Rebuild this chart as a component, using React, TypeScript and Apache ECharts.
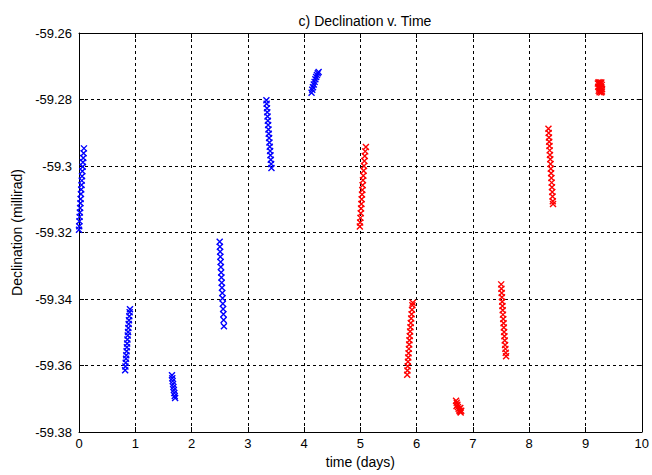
import React, { useEffect, useRef } from "react";
import * as echarts from "echarts";

const xTicks = [0, 1, 2, 3, 4, 5, 6, 7, 8, 9, 10];
const yTickLabels = ["-59.38", "-59.36", "-59.34", "-59.32", "-59.3", "-59.28", "-59.26"];

// Blue passes (time in days, declination in millirad)
const blue1: [number, number][] = [
  [0.0, -59.3192], [0.004, -59.3181], [0.008, -59.3166], [0.011, -59.3153], [0.016, -59.314],
  [0.02, -59.3126], [0.026, -59.3112], [0.029, -59.3099], [0.035, -59.3084], [0.039, -59.3071],
  [0.045, -59.3057], [0.049, -59.3044], [0.054, -59.3031], [0.06, -59.3016], [0.065, -59.3002],
  [0.07, -59.2989], [0.076, -59.2976], [0.082, -59.2962], [0.088, -59.2947],
];
const blue2: [number, number][] = [
  [0.82, -59.3614], [0.825, -59.3603], [0.83, -59.3592], [0.836, -59.358], [0.84, -59.3569],
  [0.846, -59.3557], [0.851, -59.3545], [0.856, -59.3534], [0.861, -59.3522], [0.866, -59.351],
  [0.872, -59.3499], [0.877, -59.3487], [0.883, -59.3475], [0.888, -59.3464], [0.894, -59.3452],
  [0.9, -59.344], [0.906, -59.3431],
];
const blue3: [number, number][] = [
  [1.652, -59.3629], [1.658, -59.3638], [1.664, -59.3647], [1.671, -59.3656], [1.678, -59.3665],
  [1.686, -59.3674], [1.694, -59.3683], [1.701, -59.3692], [1.708, -59.3698],
];
const blue4: [number, number][] = [
  [2.5, -59.3228], [2.504, -59.3243], [2.508, -59.3258], [2.512, -59.3273], [2.517, -59.3289],
  [2.521, -59.3304], [2.526, -59.332], [2.531, -59.3335], [2.536, -59.3351], [2.54, -59.3366],
  [2.546, -59.3382], [2.551, -59.3398], [2.556, -59.3414], [2.561, -59.343], [2.566, -59.3446],
  [2.57, -59.3463], [2.575, -59.3482],
];
const blue5: [number, number][] = [
  [3.33, -59.2802], [3.334, -59.2813], [3.34, -59.2826], [3.345, -59.2838], [3.35, -59.2851],
  [3.356, -59.2864], [3.361, -59.2877], [3.367, -59.289], [3.372, -59.2903], [3.378, -59.2916],
  [3.384, -59.2929], [3.39, -59.2942], [3.396, -59.2955], [3.402, -59.2968], [3.408, -59.2981],
  [3.414, -59.2994], [3.42, -59.3006],
];
const blue6: [number, number][] = [
  [4.132, -59.278], [4.145, -59.2771], [4.158, -59.2763], [4.172, -59.2755], [4.186, -59.2747],
  [4.2, -59.2739], [4.214, -59.2732], [4.228, -59.2726], [4.243, -59.2721], [4.258, -59.2717],
];

// Red passes
const red1: [number, number][] = [
  [4.99, -59.3182], [4.996, -59.317], [5.001, -59.3156], [5.007, -59.3142], [5.012, -59.3128],
  [5.018, -59.3114], [5.023, -59.31], [5.029, -59.3086], [5.034, -59.3072], [5.04, -59.3058],
  [5.046, -59.3043], [5.052, -59.3029], [5.058, -59.3014], [5.064, -59.3], [5.071, -59.2985],
  [5.078, -59.297], [5.086, -59.2956], [5.098, -59.2943],
];
const red2: [number, number][] = [
  [5.832, -59.3628], [5.836, -59.3615], [5.841, -59.3602], [5.846, -59.3589], [5.851, -59.3576],
  [5.856, -59.3563], [5.862, -59.355], [5.867, -59.3537], [5.872, -59.3524], [5.878, -59.3511],
  [5.884, -59.3498], [5.89, -59.3485], [5.896, -59.3472], [5.903, -59.3459], [5.91, -59.3446],
  [5.917, -59.3432], [5.924, -59.3419], [5.93, -59.3411],
];
const red3: [number, number][] = [
  [6.7, -59.3706], [6.712, -59.3712], [6.724, -59.3718], [6.708, -59.3722], [6.734, -59.3725],
  [6.746, -59.373], [6.758, -59.3735], [6.77, -59.3738], [6.782, -59.3741], [6.792, -59.3736],
  [6.775, -59.3728],
];
const red4: [number, number][] = [
  [7.502, -59.3356], [7.506, -59.3369], [7.511, -59.3382], [7.515, -59.3395], [7.52, -59.3408],
  [7.524, -59.3421], [7.529, -59.3434], [7.534, -59.3447], [7.539, -59.346], [7.544, -59.3473],
  [7.549, -59.3486], [7.554, -59.3499], [7.559, -59.3512], [7.565, -59.3525], [7.571, -59.3538],
  [7.577, -59.355], [7.583, -59.3562], [7.589, -59.3572],
];
const red5: [number, number][] = [
  [8.342, -59.2888], [8.346, -59.2901], [8.351, -59.2914], [8.355, -59.2927], [8.36, -59.294],
  [8.364, -59.2953], [8.369, -59.2967], [8.374, -59.298], [8.379, -59.2994], [8.384, -59.3008],
  [8.389, -59.3022], [8.394, -59.3036], [8.399, -59.305], [8.404, -59.3064], [8.409, -59.3078],
  [8.414, -59.3092], [8.419, -59.3106], [8.423, -59.3114],
];
const red6: [number, number][] = [
  [9.22, -59.2752], [9.232, -59.2748], [9.245, -59.2752], [9.258, -59.2749], [9.27, -59.2753],
  [9.282, -59.2749], [9.29, -59.2756], [9.226, -59.2762], [9.24, -59.2767], [9.255, -59.2762],
  [9.268, -59.2768], [9.282, -59.2764], [9.294, -59.2769], [9.235, -59.2774], [9.25, -59.2778],
  [9.265, -59.2774], [9.28, -59.2779], [9.292, -59.2776],
];

const bluePasses = [blue1, blue2, blue3, blue4, blue5, blue6];
const redPasses = [red1, red2, red3, red4, red5, red6];

const FONT = "'Liberation Sans', Arial, sans-serif";
const X_SYMBOL = "path://M0,0L10,10M10,0L0,10";

export default function App() {
  const ref = useRef<HTMLDivElement>(null);

  useEffect(() => {
    if (!ref.current) return;
    const chart = echarts.init(ref.current, null, { renderer: "svg" });

    const makeSeries = (data: [number, number][], color: string) => ({
      type: "scatter",
      data,
      symbol: X_SYMBOL,
      symbolSize: 6,
      itemStyle: { color: "none", borderColor: color, borderWidth: 1.4, opacity: 1 },
      emphasis: { disabled: true },
      silent: true,
    });

    const yFmt = (v: number) => {
      const idx = Math.round((v + 59.38) / 0.02);
      return yTickLabels[idx] ?? String(parseFloat(v.toFixed(2)));
    };
    const xFmt = (v: number) => {
      const r = Math.round(v);
      return xTicks.includes(r) ? String(r) : "";
    };

    const common = {
      type: "value",
      axisLine: { show: true, onZero: false, lineStyle: { color: "#000", width: 1 } },
      axisTick: { show: true, inside: true, length: 5, lineStyle: { color: "#000" } },
    };

    chart.setOption({
      animation: false,
      backgroundColor: "#ffffff",
      title: {
        text: "c) Declination v. Time",
        left: 360,
        top: 9,
        textAlign: "center",
        textStyle: { fontFamily: FONT, fontSize: 14, fontWeight: "normal", color: "#000" },
      },
      grid: { left: 79, right: 6, top: 33, bottom: 43, containLabel: false },
      xAxis: [
        {
          ...common,
          position: "bottom",
          min: 0,
          max: 10,
          interval: 1,
          name: "time (days)",
          nameLocation: "middle",
          nameGap: 22,
          nameTextStyle: { fontFamily: FONT, fontSize: 14, color: "#000" },
          axisLabel: { fontFamily: FONT, fontSize: 13, color: "#000", margin: 5, formatter: xFmt },
          splitLine: { show: true, lineStyle: { color: "#000", type: [3, 3], width: 1 } },
        },
        {
          ...common,
          position: "top",
          min: 0,
          max: 10,
          interval: 1,
          axisLabel: { show: false },
          splitLine: { show: false },
        },
      ],
      yAxis: [
        {
          ...common,
          position: "left",
          min: -59.38,
          max: -59.26,
          interval: 0.02,
          name: "Declination (millirad)",
          nameLocation: "middle",
          nameGap: 52,
          nameTextStyle: { fontFamily: FONT, fontSize: 14, color: "#000" },
          axisLabel: { fontFamily: FONT, fontSize: 13, color: "#000", margin: 7, formatter: yFmt },
          splitLine: { show: true, lineStyle: { color: "#000", type: [3, 3], width: 1 } },
        },
        {
          ...common,
          position: "right",
          min: -59.38,
          max: -59.26,
          interval: 0.02,
          axisLabel: { show: false },
          splitLine: { show: false },
        },
      ],
      series: [
        ...bluePasses.map((d) => makeSeries(d, "#0000ff")),
        ...redPasses.map((d) => makeSeries(d, "#ff0000")),
      ],
    });

    return () => chart.dispose();
  }, []);

  return (
    <div
      ref={ref}
      style={{ position: "fixed", left: 0, top: 0, width: 652, height: 475, background: "#fff" }}
    />
  );
}
